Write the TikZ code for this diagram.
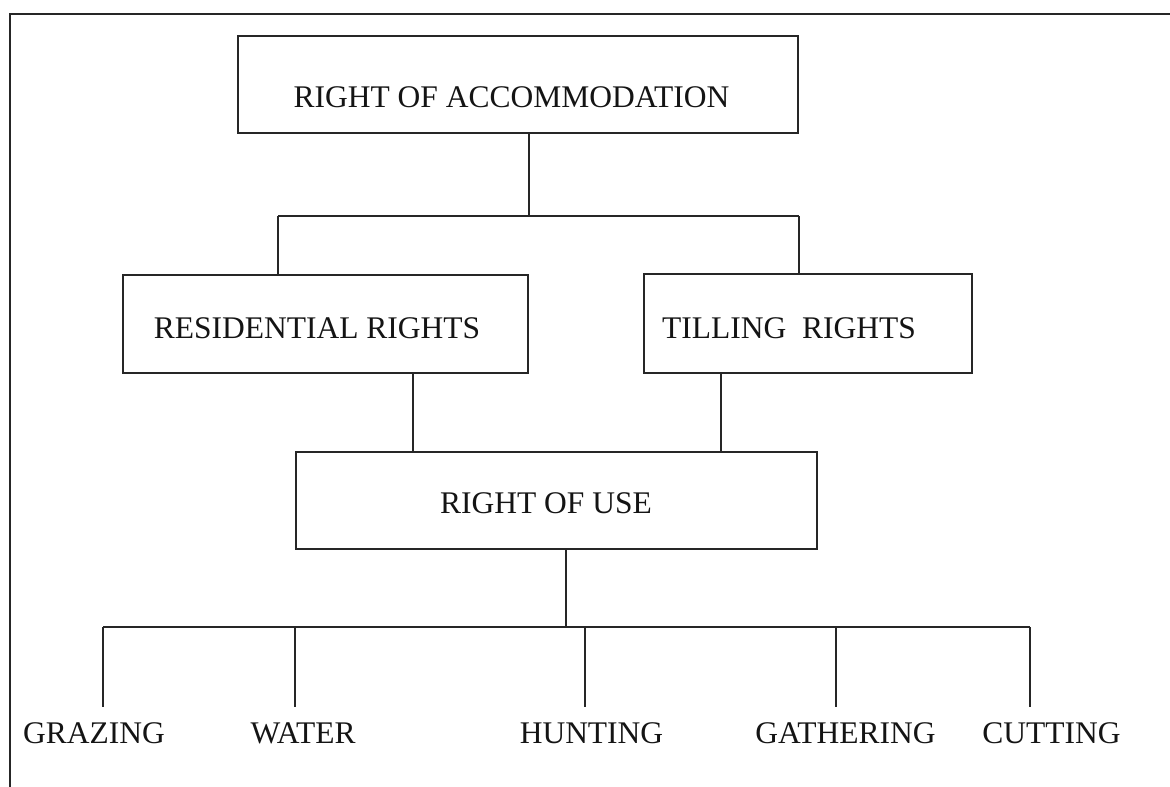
\documentclass[tikz,border=0pt]{standalone}
\usepackage{fontspec}
\setmainfont{Liberation Serif}
\newcommand{\boxtxt}[3]{\raisebox{#2}[0pt][0pt]{\makebox[0pt][c]{\hspace*{#1}#3}}}
\begin{document}
\begin{tikzpicture}[x=1pt,y=-1pt,
  every node/.style={font=\fontsize{31.5}{38}\selectfont, text=black!92},
  box/.style={draw=black!85, line width=2pt, rectangle, inner sep=0pt, outer sep=0pt},
  leaf/.style={inner sep=0pt, outer ysep=15.5pt, anchor=base},
  conn/.style={draw=black!85, line width=1.9pt}]
\useasboundingbox (0,0) rectangle (1170,787);
% outer frame (cut at right and bottom)
\draw[line width=2pt, draw=black!85] (10,790) -- (10,14) -- (1175,14);
% boxes
\node[box, minimum width=560pt, minimum height=97pt] (acc) at (518,84.5)
  {\boxtxt{-13pt}{-23pt}{RIGHT OF ACCOMMODATION}};
\node[box, minimum width=405pt, minimum height=98pt] (res) at (325.5,324)
  {\boxtxt{-17pt}{-14pt}{RESIDENTIAL RIGHTS}};
\node[box, minimum width=328pt, minimum height=99pt] (til) at (808,323.5)
  {\boxtxt{-38pt}{-14.5pt}{TILLING\ \ RIGHTS}};
\node[box, minimum width=521pt, minimum height=97pt] (use) at (556.5,500.5)
  {\boxtxt{-21pt}{-12.5pt}{RIGHT OF USE}};
% leaves
\node[leaf] (gra) at (94,743) {GRAZING};
\node[leaf] (wat) at (303,743) {WATER};
\node[leaf] (hun) at (591.5,743) {HUNTING};
\node[leaf] (gat) at (845.5,743) {GATHERING};
\node[leaf] (cut) at (1051.5,743) {CUTTING};
% junction coordinates
\coordinate (j1) at (529,216);
\coordinate (jl) at (278,216);
\coordinate (jr) at (799,216);
\coordinate (k1) at (413,452);
\coordinate (k2) at (721,452);
\coordinate (m1) at (566,627);
\coordinate (b1) at (103,627);
\coordinate (b2) at (295,627);
\coordinate (b3) at (585,627);
\coordinate (b4) at (836,627);
\coordinate (b5) at (1030,627);
% connectors
\draw[conn] (acc.south -| j1) -- (j1);
\draw[conn] (jl) -- (jr);
\draw[conn] (jl) -- (jl |- res.north);
\draw[conn] (jr) -- (jr |- til.north);
\draw[conn] (res.south -| k1) -- (k1);
\draw[conn] (til.south -| k2) -- (k2);
\draw[conn] (use.south -| m1) -- (m1);
\draw[conn] (b1) -- (b5);
\draw[conn] (b1) -- (b1 |- gra.north);
\draw[conn] (b2) -- (b2 |- wat.north);
\draw[conn] (b3) -- (b3 |- hun.north);
\draw[conn] (b4) -- (b4 |- gat.north);
\draw[conn] (b5) -- (b5 |- cut.north);
\end{tikzpicture}
\end{document}
